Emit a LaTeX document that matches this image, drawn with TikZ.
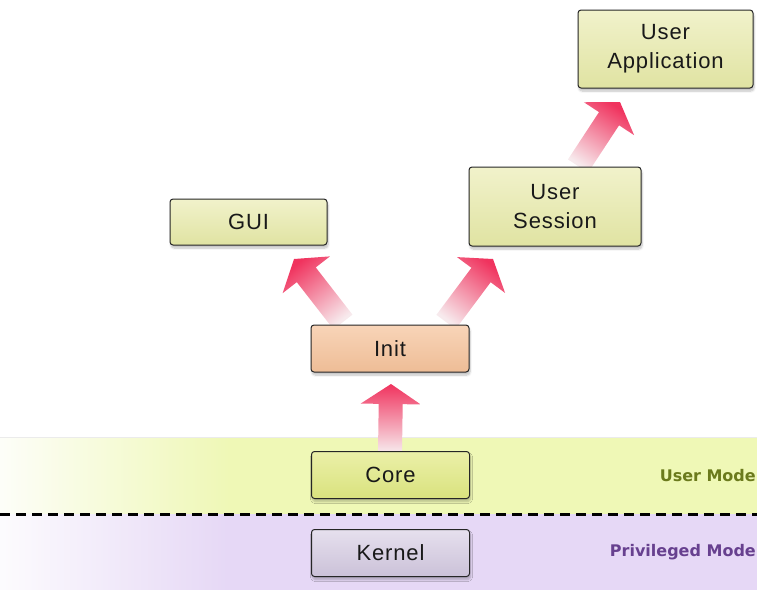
\documentclass[tikz,border=0pt]{standalone}
\usepackage{fontspec}
\setmainfont{Liberation Sans}[LetterSpace=4]
\newfontfamily\modefont{DejaVu Sans}
\usetikzlibrary{calc,shadows.blur,fadings}
\definecolor{bandgreen}{HTML}{EFF8B6}
\definecolor{bandpurple}{HTML}{E6D8F6}
\definecolor{usermode}{HTML}{6B7A1C}
\definecolor{privmode}{HTML}{67408F}
\definecolor{arrowhead}{HTML}{F0335E}
\definecolor{arrowmid}{HTML}{E7869B}
\definecolor{arrowtail}{HTML}{F7EAED}
\definecolor{ylTop}{HTML}{F1F2CB}
\definecolor{ylBot}{HTML}{E0E3A2}
\definecolor{inTop}{HTML}{F8D4B8}
\definecolor{inBot}{HTML}{EEBD96}
\definecolor{coTop}{HTML}{EBF0A8}
\definecolor{coBot}{HTML}{D9E27E}
\definecolor{keTop}{HTML}{E6E0EE}
\definecolor{keBot}{HTML}{CBC1D8}
\tikzfading[name=fadeband, left color=transparent!0, right color=transparent!100]
\newcommand{\fatarrow}[3]{%
  \shade[top color=arrowhead, middle color=arrowmid, bottom color=arrowtail, shading angle=#3]
    ($(#1)!12pt!-90:(#2)$) --
    ($(#2)!20pt!(#1)!12pt!-90:(#2)$) --
    ($(#2)!20pt!(#1)!30pt!-90:(#2)$) --
    (#2) --
    ($(#2)!20pt!(#1)!30pt!90:(#2)$) --
    ($(#2)!20pt!(#1)!12pt!90:(#2)$) --
    ($(#1)!12pt!90:(#2)$) -- cycle;}
\begin{document}
\begin{tikzpicture}[x=1pt,y=-1pt,
  box/.style={draw=black!85, line width=1pt, rounded corners=3pt,
    align=center, text=black!90, font=\fontsize{22}{29}\selectfont,
    inner sep=0pt,
    blur shadow={shadow xshift=1pt, shadow yshift=-3pt, shadow blur steps=6, shadow opacity=25}},
  yelbox/.style={box, top color=ylTop, bottom color=ylBot},
  initbox/.style={box, top color=inTop, bottom color=inBot},
  corebox/.style={box, top color=coTop, bottom color=coBot},
  kernbox/.style={box, top color=keTop, bottom color=keBot},
  modelabel/.style={anchor=east, font=\modefont\bfseries\fontsize{16}{19}\selectfont, inner sep=0pt}
]
\useasboundingbox (0,0) rectangle (757,590);
\clip (0,0) rectangle (757,590);
% mode bands
\fill[bandgreen] (0,437) rectangle (757,514);
\fill[bandpurple] (0,514) rectangle (757,590);
\fill[white, path fading=fadeband] (-20,437) rectangle (230,590);
\draw[black!8] (0,437) -- (757,437);
\draw[line width=3pt, dash pattern=on 10pt off 6pt] (0,514) -- (757,514);
\node[modelabel, text=usermode] (um) at (756,476) {User Mode};
\node[modelabel, text=privmode] (pm) at (756,552) {Privileged Mode};
% arrow end points
\coordinate (t1) at (390,452); \coordinate (h1) at (391,384);
\coordinate (t2) at (343,322); \coordinate (h2) at (294,259);
\coordinate (t3) at (446,322); \coordinate (h3) at (493,259);
\coordinate (t4) at (578,166); \coordinate (h4) at (620,102);
\fatarrow{t1}{h1}{0}
\fatarrow{t2}{h2}{38}
\fatarrow{t3}{h3}{-37}
\fatarrow{t4}{h4}{-33}
% boxes
\node[yelbox, minimum width=175pt, minimum height=78pt] (app) at (665.5,49) {User\\Application};
\node[yelbox, minimum width=157pt, minimum height=46pt] (gui) at (248.5,222) {GUI};
\node[yelbox, minimum width=172pt, minimum height=79pt] (sess) at (555,206.5) {User\\Session};
\node[initbox, minimum width=158pt, minimum height=47pt] (init) at (390,348.5) {Init};
\node[corebox, minimum width=158pt, minimum height=47pt] (core) at (390.5,475) {Core};
\node[kernbox, minimum width=158pt, minimum height=47pt] (kern) at (390.5,553) {Kernel};
\end{tikzpicture}
\end{document}
